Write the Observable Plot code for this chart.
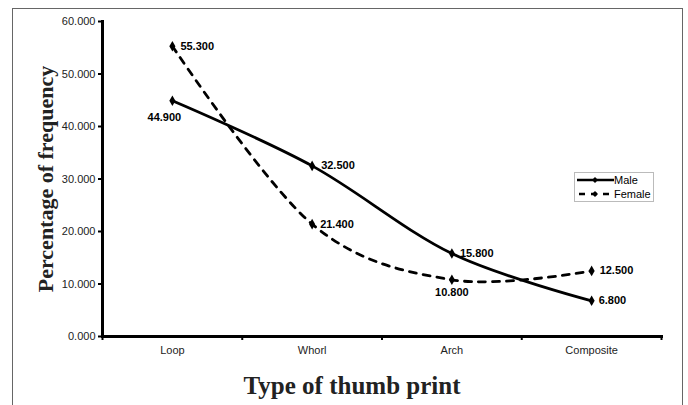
<!DOCTYPE html>
<html>
<head>
<meta charset="utf-8">
<script src="https://cdn.jsdelivr.net/npm/d3@7"></script>
<script src="https://cdn.jsdelivr.net/npm/@observablehq/plot@0.6"></script>
<style>
  html, body { margin: 0; padding: 0; background: #fff; }
  #wrap { position: relative; width: 688px; height: 405px; overflow: hidden; }
  #border { position: absolute; left: 12px; top: 8px; width: 671px; height: 420px; border: 1.5px solid #666; box-sizing: border-box; pointer-events: none; }
  #legend { position: absolute; left: 574px; top: 172px; width: 80px; height: 30px; border: 1px solid #bbb; box-sizing: border-box; background: #fff; font: 11px "Liberation Sans", Arial, sans-serif; color: #000; }
  #legend .row { position: absolute; left: 1px; height: 14px; display: flex; align-items: center; white-space: nowrap; }
  #legend svg { display: block; }
</style>
</head>
<body>
<div id="wrap">
  <div id="chart"></div>
  <div id="border"></div>
  <div id="legend">
    <div class="row" style="top:0px"><svg width="38" height="14"><line x1="1" y1="7" x2="38" y2="7" stroke="#000" stroke-width="2.5"/><path d="M19,4 L22,7 L19,10 L16,7 Z" fill="#000"/></svg><span>Male</span></div>
    <div class="row" style="top:14px"><svg width="38" height="14"><line x1="3" y1="7" x2="33" y2="7" stroke="#000" stroke-width="2.5" stroke-dasharray="6,6"/><path d="M19,4 L22,7 L19,10 L16,7 Z" fill="#000"/></svg><span>Female</span></div>
  </div>
</div>
<script>
const categories = ["Loop", "Whorl", "Arch", "Composite"];
const male = [44.9, 32.5, 15.8, 6.8];
const female = [55.3, 21.4, 10.8, 12.5];
const yTicks = [0, 10, 20, 30, 40, 50, 60];

// label placement per point (dx, dy, anchor)
const maleLabelPos = [[-8, 17, "middle"], [9, 0, "start"], [8, 0, "start"], [7, 0, "start"]];
const femaleLabelPos = [[8, 0, "start"], [8, 0, "start"], [0, 13, "middle"], [8, 0, "start"]];

const rows = [];
categories.forEach((c, i) => {
  rows.push({series: "Male", cat: c, xi: i + 0.5, value: male[i], dx: maleLabelPos[i][0], dy: maleLabelPos[i][1], anchor: maleLabelPos[i][2]});
  rows.push({series: "Female", cat: c, xi: i + 0.5, value: female[i], dx: femaleLabelPos[i][0], dy: femaleLabelPos[i][1], anchor: femaleLabelPos[i][2]});
});
const maleRows = rows.filter(d => d.series === "Male");
const femaleRows = rows.filter(d => d.series === "Female");

const labelMarks = rows.map(d =>
  Plot.text([d], {x: "xi", y: "value", text: r => r.value.toFixed(3), dx: d.dx, dy: d.dy, textAnchor: d.anchor, fontWeight: "bold", fontSize: 11, fill: "#000"})
);

const chart = Plot.plot({
  width: 688,
  height: 405,
  marginLeft: 102,
  marginRight: 27,
  marginTop: 21,
  marginBottom: 69,
  style: {fontFamily: "'Liberation Sans', Arial, sans-serif", background: "#fff", color: "#000"},
  x: {type: "linear", domain: [0, categories.length], axis: null},
  y: {domain: [0, 60], axis: null},
  marks: [
    Plot.axisY({ticks: yTicks, tickFormat: d => d.toFixed(3), tickSize: 4, tickPadding: 3, fontSize: 11, label: null, stroke: "#000", strokeWidth: 2, fill: "#222"}),
    Plot.axisX({ticks: d3.range(categories.length + 1), tickFormat: () => "", tickSize: 4, label: null, strokeWidth: 2, stroke: "#000"}),
    Plot.axisX({ticks: categories.map((c, i) => i + 0.5), tickFormat: (d, i) => categories[i], tickSize: 0, tickPadding: 10, fontSize: 11, label: null, fill: "#222"}),
    Plot.line(femaleRows, {x: "xi", y: "value", curve: "cardinal", stroke: "#000", strokeWidth: 2.8, strokeDasharray: "7,7"}),
    Plot.line(maleRows, {x: "xi", y: "value", curve: "cardinal", stroke: "#000", strokeWidth: 2.8}),
    Plot.dot(rows, {x: "xi", y: "value", symbol: "diamond", r: 3.2, fill: "#000"}),
    ...labelMarks,
    Plot.frame({anchor: "left", stroke: "#000", strokeWidth: 3}),
    Plot.frame({anchor: "bottom", stroke: "#000", strokeWidth: 3}),
    Plot.text(["Type of thumb print"], {frameAnchor: "bottom", dy: 57, dx: -30, textAnchor: "middle", fontFamily: "'Liberation Serif', 'Times New Roman', serif", fontWeight: "bold", fontSize: 25, fill: "#222"}),
    Plot.text(["Percentage of frequency"], {frameAnchor: "left", dx: -57, textAnchor: "middle", rotate: -90, fontFamily: "'Liberation Serif', 'Times New Roman', serif", fontWeight: "bold", fontSize: 22, fill: "#222"})
  ]
});
document.getElementById("chart").appendChild(chart);
</script>
</body>
</html>
